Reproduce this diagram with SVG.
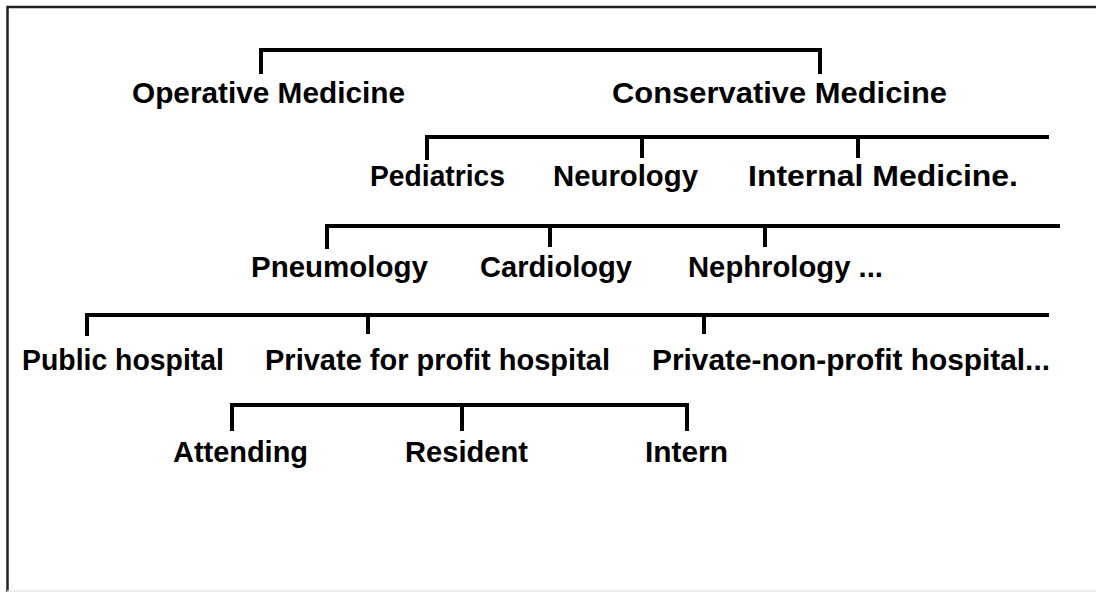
<svg xmlns="http://www.w3.org/2000/svg" width="1096" height="592" viewBox="0 0 1096 592">
<style>
.t{font-family:"Liberation Sans",Arial,sans-serif;font-weight:bold;font-size:30px;fill:#000}
.c{fill:none;stroke:#000;stroke-width:4;stroke-linecap:square;stroke-linejoin:miter}
</style>
<rect width="1096" height="592" fill="#fff"/>
<path d="M7.5,592 V7 H1096" fill="none" stroke="#222" stroke-width="2.5"/>
<line x1="7" y1="591" x2="1096" y2="591" stroke="#e6e6e6" stroke-width="1.5"/>
<g id="connectors">
<path class="c" d="M261,72 V50 H820 V72"/>
<path class="c" d="M427,158 V137 H1047 M642,137 V156 M858,137 V156"/>
<path class="c" d="M327,247 V226 H1058 M550,226 V245 M765,226 V245"/>
<path class="c" d="M87,334 V315 H1047 M368,315 V332 M704,315 V332"/>
<path class="c" d="M232,429 V405 H687 V429 M462,405 V429"/>
</g>
<g id="operative"><text class="t" x="132" y="103" textLength="273" lengthAdjust="spacingAndGlyphs">Operative Medicine</text></g>
<g id="conservative"><text class="t" x="612" y="103" textLength="335" lengthAdjust="spacingAndGlyphs">Conservative Medicine</text></g>
<g id="pediatrics"><text class="t" x="370" y="186" textLength="135" lengthAdjust="spacingAndGlyphs">Pediatrics</text></g>
<g id="neurology"><text class="t" x="553" y="186" textLength="145" lengthAdjust="spacingAndGlyphs">Neurology</text></g>
<g id="internal"><text class="t" x="748" y="186" textLength="270" lengthAdjust="spacingAndGlyphs">Internal Medicine.</text></g>
<g id="pneumology"><text class="t" x="251" y="277" textLength="177" lengthAdjust="spacingAndGlyphs">Pneumology</text></g>
<g id="cardiology"><text class="t" x="480" y="277" textLength="152" lengthAdjust="spacingAndGlyphs">Cardiology</text></g>
<g id="nephrology"><text class="t" x="688" y="277" textLength="195" lengthAdjust="spacingAndGlyphs">Nephrology ...</text></g>
<g id="public"><text class="t" x="22" y="370" textLength="202" lengthAdjust="spacingAndGlyphs">Public hospital</text></g>
<g id="private-profit"><text class="t" x="265" y="370" textLength="345" lengthAdjust="spacingAndGlyphs">Private for profit hospital</text></g>
<g id="private-nonprofit"><text class="t" x="652" y="370" textLength="398" lengthAdjust="spacingAndGlyphs">Private-non-profit hospital...</text></g>
<g id="attending"><text class="t" x="173" y="462" textLength="135" lengthAdjust="spacingAndGlyphs">Attending</text></g>
<g id="resident"><text class="t" x="405" y="462" textLength="123" lengthAdjust="spacingAndGlyphs">Resident</text></g>
<g id="intern"><text class="t" x="645" y="462" textLength="83" lengthAdjust="spacingAndGlyphs">Intern</text></g>
</svg>
